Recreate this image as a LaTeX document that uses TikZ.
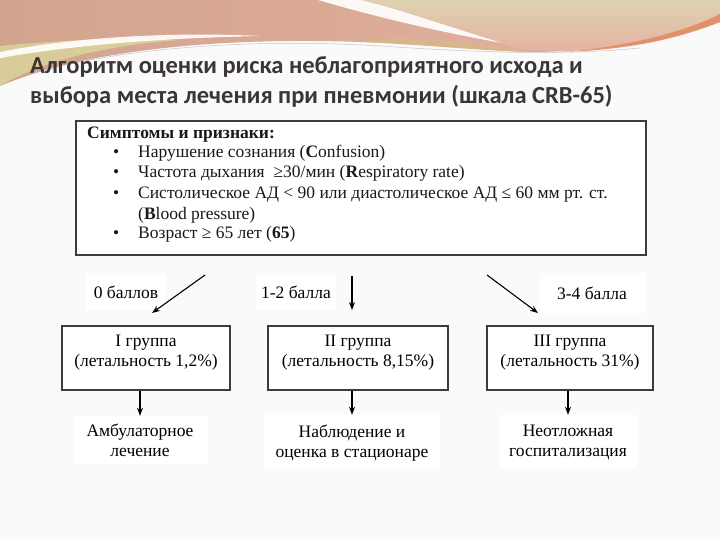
\documentclass[tikz,border=0pt]{standalone}
\usepackage{fontspec}
\setmainfont{Liberation Serif}
\newfontfamily\titlefont{Carlito}
\usetikzlibrary{arrows.meta}
\definecolor{bg}{HTML}{FAFAFA}
\definecolor{ttl}{HTML}{3B3535}
\definecolor{bord}{HTML}{3C3C3C}
\definecolor{decoA}{HTML}{D2A48E}
\definecolor{decoB}{HTML}{D9A898}
\definecolor{decoC}{HTML}{E6B2A2}
\definecolor{decoG}{HTML}{DAD49C}
\definecolor{decoY}{HTML}{DDD2B0}
\definecolor{decoT}{HTML}{D8B888}
\definecolor{decoO}{HTML}{E08A5E}
\begin{document}
\begin{tikzpicture}[x=1pt,y=-1pt,
  txt/.style={font=\fontsize{17.5}{20}\selectfont, text=black!90, inner sep=0pt},
  ttltxt/.style={font=\titlefont\bfseries\fontsize{24.5}{28}\selectfont, text=ttl, inner sep=0pt, anchor=base west},
  grp/.style={draw=bord, line width=1.3pt, fill=white, rectangle, minimum height=64pt, inner sep=0pt},
  lbl/.style={fill=white, rectangle, inner sep=0pt, font=\fontsize{17.5}{20}\selectfont, align=center},
  arr/.style={-{Stealth[length=8pt,width=6pt]}, line width=1.1pt, black}
]
\useasboundingbox (0,0) rectangle (720,540);
\fill[bg] (0,0) rectangle (720,540);
% decoration
\shade[left color=decoA, middle color=decoB, right color=decoC]
  (0,0) -- (720,0) -- (720,22) .. controls (690,32) and (660,42) .. (630,45)
  .. controls (590,50) and (560,52) .. (530,52)
  .. controls (470,50) and (420,44) .. (360,42)
  .. controls (250,38) and (100,44) .. (0,86) -- cycle;
\shade[top color=decoY, bottom color=decoC]
  (352,0) -- (720,0) -- (720,22) .. controls (690,32) and (660,42) .. (630,45)
  .. controls (590,50) and (560,52) .. (530,50) .. controls (510,48) and (505,44) .. (500,42)
  .. controls (440,25) and (395,10) .. (352,0) -- cycle;
\fill[decoT, opacity=0.8] (360,42) .. controls (420,44) and (470,50) .. (530,52)
  .. controls (500,47) and (450,40) .. (400,38) .. controls (385,38) and (370,40) .. (360,42) -- cycle;
\fill[decoG, opacity=0.85] (0,46) .. controls (60,40) and (120,38) .. (180,40)
  .. controls (100,46) and (40,62) .. (0,86) -- cycle;
\fill[white, opacity=0.9] (0,52) .. controls (80,36) and (180,32) .. (260,36)
  .. controls (170,38) and (80,44) .. (0,58) -- cycle;
\fill[white, opacity=0.92] (318,0) .. controls (380,18) and (440,32) .. (502,43)
  .. controls (440,24) and (395,8) .. (360,0) -- cycle;
\fill[decoO, opacity=0.85] (560,52) .. controls (620,48) and (680,34) .. (720,14)
  -- (720,22) .. controls (690,34) and (640,50) .. (560,52) -- cycle;
\draw[gray!45, line width=0.5pt] (30,74) .. controls (120,48) and (250,38) .. (380,46)
  .. controls (470,52) and (560,56) .. (640,48);
% title
\node[ttltxt] (t1) at (30,74) {Алгоритм оценки риска неблагоприятного исхода и};
\node[ttltxt] (t2) at (30,104) {выбора места лечения при пневмонии (шкала CRB-65)};
% symptoms box
\node[draw=bord, line width=1.6pt, fill=white, rectangle, anchor=north west,
      minimum width=570pt, minimum height=134pt, inner sep=0pt] (sym) at (75,120) {};
\node[txt, anchor=base west, font=\bfseries\fontsize{17.5}{20}\selectfont] (h) at (87,139) {Симптомы и признаки:};
\foreach \i/\yy in {1/158,2/178,3/199,5/239}{
  \node[txt, anchor=base west] (b\i) at (113,\yy) {\textbullet};
}
\node[txt, anchor=base west] (s1) at (138,158) {Нарушение сознания (\textbf{C}onfusion)};
\node[txt, anchor=base west] (s2) at (138,178) {Частота дыхания \ ≥30/мин (\textbf{R}espiratory rate)};
\node[txt, anchor=base west] (s3) at (138,199) {Систолическое АД < 90 или диастолическое АД ≤ 60 мм рт. ст.};
\node[txt, anchor=base west] (s4) at (138,219) {(\textbf{B}lood pressure)};
\node[txt, anchor=base west] (s5) at (138,239) {Возраст ≥ 65 лет (\textbf{65})};
% score labels
\node[lbl, minimum width=80pt, minimum height=35pt] (l1) at (126,292) {0 баллов};
\node[lbl, minimum width=80pt, minimum height=35pt] (l2) at (296,292) {1-2 балла};
\node[lbl, minimum width=105pt, minimum height=40pt] (l3) at (592,293) {3-4 балла};
\coordinate (a1s) at (205,275); \coordinate (a1e) at (152,313);
\coordinate (a2s) at (352,276); \coordinate (a2e) at (352,310);
\coordinate (a3s) at (487,275); \coordinate (a3e) at (538,313);
\draw[arr] (a1s) -- (a1e);
\draw[arr] (a2s) -- (a2e);
\draw[arr] (a3s) -- (a3e);
% groups
\node[grp, minimum width=168pt] (g1) at (146,358) {};
\node[grp, minimum width=180pt] (g2) at (358,358) {};
\node[grp, minimum width=166pt] (g3) at (570,358) {};
\node[lbl, fill=none] (g1t) at (146,353) {I группа\\(летальность 1,2\%)};
\node[lbl, fill=none] (g2t) at (358,353) {II группа\\(летальность 8,15\%)};
\node[lbl, fill=none] (g3t) at (570,353) {III группа\\(летальность 31\%)};
% outcomes
\node[lbl, minimum width=135pt, minimum height=48pt] (o1) at (140,440) {Амбулаторное\\лечение};
\node[lbl, minimum width=176pt, minimum height=56pt] (o2) at (352,443) {Наблюдение и\\оценка в стационаре};
\node[lbl, minimum width=137pt, minimum height=54pt] (o3) at (568,442) {Неотложная\\госпитализация};
\draw[arr] (o1.north |- g1.south) -- (o1.north);
\draw[arr] (o2.north |- g2.south) -- (o2.north);
\draw[arr] (o3.north |- g3.south) -- (o3.north);
\end{tikzpicture}
\end{document}
